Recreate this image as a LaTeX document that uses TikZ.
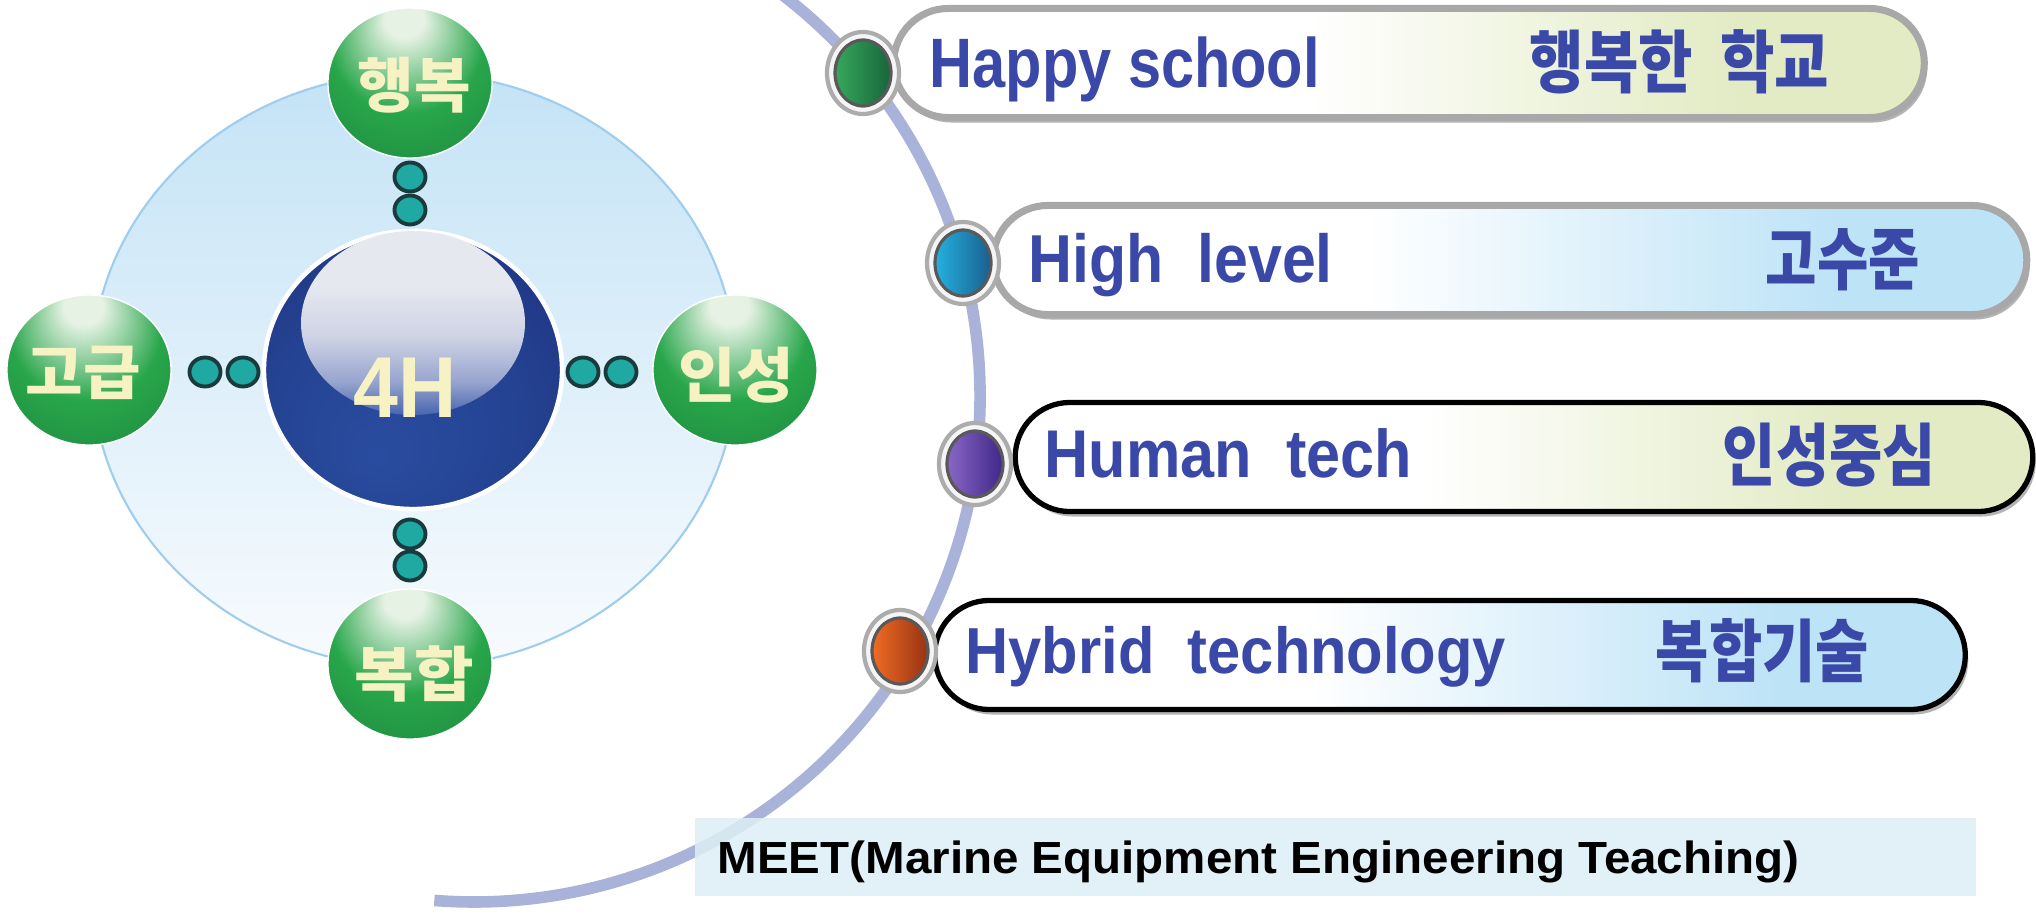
\documentclass[tikz,border=0pt]{standalone}
\usepackage{fontspec}
\usepackage{graphicx}
\usetikzlibrary{shapes.geometric,shadows}
\setmainfont{Liberation Sans}
\newfontfamily\kr{Noto Sans CJK KR}
\newcommand{\fitw}[2]{\resizebox{#1}{\height}{#2}}
\newcommand{\fsz}[1]{\fontsize{#1}{#1}\selectfont}
\definecolor{gMain}{HTML}{28A64B}
\definecolor{gMid}{HTML}{1E8A40}
\definecolor{gDark}{HTML}{0F6636}
\definecolor{gHi}{HTML}{E6F2E4}
\definecolor{bA}{HTML}{2A4CA0}
\definecolor{bB}{HTML}{244291}
\definecolor{bC}{HTML}{1F3280}
\definecolor{bD}{HTML}{1A1B57}
\definecolor{hlA}{HTML}{E6E8F0}
\definecolor{hlMid}{HTML}{CDD2E4}
\definecolor{hlLow}{HTML}{97A4CE}
\definecolor{hlBot}{HTML}{4865AE}
\definecolor{cream}{HTML}{F6F2C4}
\definecolor{ringTop}{HTML}{C4E3F6}
\definecolor{ringBot}{HTML}{F8FBFE}
\definecolor{ringLine}{HTML}{9ECDEE}
\definecolor{teal1}{HTML}{1FA9A2}
\definecolor{tealDark}{HTML}{1A3B3D}
\definecolor{arcCol}{HTML}{A9B3DA}
\definecolor{capYG}{HTML}{E2EBC4}
\definecolor{capBL}{HTML}{BDE3F7}
\definecolor{capGray}{HTML}{A8A8A8}
\definecolor{capShadow}{HTML}{B4B4B4}
\definecolor{txtBlue}{HTML}{3A48A8}
\definecolor{meetFill}{HTML}{DDEFF6}
\definecolor{dGa}{HTML}{36A85C}\definecolor{dGb}{HTML}{17653A}
\definecolor{dBa}{HTML}{24B2E0}\definecolor{dBb}{HTML}{1A5E8E}
\definecolor{dPa}{HTML}{8A66C6}\definecolor{dPb}{HTML}{3E2888}
\definecolor{dOa}{HTML}{F06C24}\definecolor{dOb}{HTML}{983214}
\pgfdeclareradialshading{greenball}{\pgfpoint{-2bp}{24bp}}{color(0bp)=(gHi); color(6bp)=(gHi); color(23bp)=(gMain); color(40bp)=(gMid); color(50bp)=(gDark)}
\pgfdeclareradialshading{blueball}{\pgfpoint{-6bp}{-16bp}}{color(0bp)=(bA); color(22bp)=(bB); color(38bp)=(bC); color(50bp)=(bD)}
\pgfdeclareverticalshading{hlshade}{100bp}{color(0bp)=(hlBot); color(25bp)=(hlBot); color(34bp)=(hlLow); color(46bp)=(hlMid); color(60bp)=(hlA); color(100bp)=(hlA)}
\pgfdeclarehorizontalshading{capyg}{100bp}{color(0bp)=(white); color(45bp)=(white); color(66bp)=(capYG); color(100bp)=(capYG)}
\pgfdeclarehorizontalshading{capbl}{100bp}{color(0bp)=(white); color(43bp)=(white); color(66bp)=(capBL); color(100bp)=(capBL)}
\tikzset{
  bigring/.style={ellipse, minimum width=6.44cm, minimum height=5.94cm, inner sep=0, top color=ringTop, bottom color=ringBot, draw=ringLine, line width=0.6pt},
  gball/.style={ellipse, minimum width=1.64cm, minimum height=1.50cm, inner sep=0, shade, shading=greenball, draw=white, line width=0.4pt},
  hball/.style={ellipse, minimum width=2.98cm, minimum height=2.78cm, inner sep=0, shade, shading=blueball, draw=white, line width=1.3pt},
  gtext/.style={inner sep=0, text=cream, font=\kr\bfseries\fsz{17pt}},
  htext/.style={inner sep=0, text=cream, font=\bfseries\fsz{24.6pt}},
  tdot/.style={ellipse, minimum width=0.31cm, minimum height=0.29cm, inner sep=0, fill=teal1, draw=tealDark, line width=1.1pt},
  arcline/.style={draw=arcCol, line width=3.3pt},
  capbase/.style={rectangle, rounded corners=0.545cm, minimum height=1.09cm, inner sep=0, drop shadow={shadow xshift=0.03cm, shadow yshift=-0.05cm, fill=capShadow, opacity=1}},
  capgray/.style={capbase, draw=capGray, line width=2pt},
  capblack/.style={capbase, draw=black, line width=1.5pt},
  ringdot/.style={ellipse, minimum width=0.72cm, minimum height=0.82cm, inner sep=0, fill=white!92!gray, draw=gray!65, line width=1.2pt},
  coredot/.style={ellipse, minimum width=0.56cm, minimum height=0.66cm, inner sep=0, draw=black!65, line width=0.9pt},
  entext/.style={inner sep=0, text=txtBlue, anchor=base west},
  krtext/.style={inner sep=0, text=txtBlue, anchor=west, font=\kr\bfseries\fsz{19.4pt}},
  meetbox/.style={rectangle, inner sep=0, fill=meetFill, fill opacity=0.85, minimum width=12.81cm, minimum height=0.78cm},
}
\begin{document}
\begin{tikzpicture}[x=0.01cm, y=-0.01cm]
\useasboundingbox (0,0) rectangle (2036,915);
\clip (0,0) rectangle (2036,915);
\fill[white] (0,0) rectangle (2036,915);

% ---- left: 4H cluster ----
\node[bigring] (ring) at (414,370) {};
\node[hball] (h4) at (413,370) {};
\shade[shading=hlshade] ([yshift=0.47cm]h4.center) ellipse[x radius=112, y radius=92];
\node[htext, anchor=base west] (t4h) at (353,417) {\fitw{1.03cm}{4H}};

\node[gball] (bt) at (410,83) {};
\node[gball] (bl) at (89,370) {};
\node[gball] (br) at (735,370) {};
\node[gball] (bb) at (410,664) {};
\node[gtext] (tbt) at (414,85) {\fitw{1.13cm}{행복}};
\node[gtext] (tbl) at (83,373) {\fitw{1.15cm}{고급}};
\node[gtext] (tbr) at (736,375) {\fitw{1.15cm}{인성}};
\node[gtext] (tbb) at (414,674) {\fitw{1.19cm}{복합}};

\node[tdot] (dt1) at (410,177) {};
\node[tdot] (dt2) at (410,210) {};
\node[tdot] (db1) at (410,534) {};
\node[tdot] (db2) at (410,566) {};
\node[tdot] (dl1) at (205,372) {};
\node[tdot] (dl2) at (243,372) {};
\node[tdot] (dr1) at (583,372) {};
\node[tdot] (dr2) at (621,372) {};

% ---- right: arc and capsules ----
\draw[arcline] (474,396) ++(-58:506) arc[start angle=-58, end angle=94.5, radius=506];

\node[capgray, shade, shading=capyg, minimum width=10.30cm] (c1) at (1409,63) {};
\node[capgray, shade, shading=capbl, minimum width=10.33cm] (c2) at (1510,260) {};
\node[capblack, shade, shading=capyg, minimum width=10.17cm] (c3) at (1524,457) {};
\node[capblack, shade, shading=capbl, minimum width=10.30cm] (c4) at (1450,655) {};

\node[ringdot] (p1) at (863,73) {};
\node[coredot, left color=dGa, right color=dGb] (p1c) at (p1) {};
\node[ringdot] (p2) at (963,263) {};
\node[coredot, left color=dBa, right color=dBb] (p2c) at (p2) {};
\node[ringdot] (p3) at (975,464) {};
\node[coredot, left color=dPa, right color=dPb] (p3c) at (p3) {};
\node[ringdot] (p4) at (900,651) {};
\node[coredot, left color=dOa, right color=dOb] (p4c) at (p4) {};

\node[entext, font=\bfseries\fsz{19.9pt}] (e1) at (929,87) {\fitw{3.90cm}{Happy school}};
\node[entext, font=\bfseries\fsz{19.3pt}] (e2) at (1028,282) {\fitw{3.04cm}{High~~level}};
\node[entext, font=\bfseries\fsz{19.2pt}] (e3) at (1044,477) {\fitw{3.67cm}{Human~~tech}};
\node[entext, font=\bfseries\fsz{18.5pt}] (e4) at (965,673) {\fitw{5.40cm}{Hybrid~~technology}};

\node[krtext] (k1) at (1529,62) {\fitw{2.99cm}{행복한~~학교}};
\node[krtext] (k2) at (1765,260) {\fitw{1.54cm}{고수준}};
\node[krtext] (k3) at (1722,455) {\fitw{2.13cm}{인성중심}};
\node[krtext] (k4) at (1655,651) {\fitw{2.13cm}{복합기술}};

% ---- bottom caption ----
\node[meetbox] (meet) at (1335.5,857) {};
\node[inner sep=0, anchor=base west, font=\bfseries\fsz{12.8pt}] (mt) at (717,873) {\fitw{10.81cm}{MEET(Marine Equipment Engineering Teaching)}};
\end{tikzpicture}
\end{document}
